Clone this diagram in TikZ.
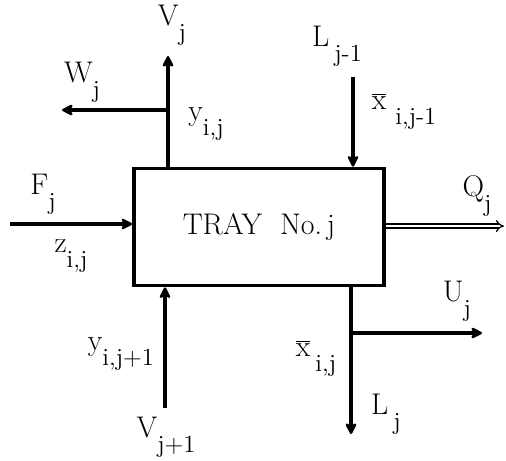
\documentclass[tikz,border=0pt]{standalone}
\usetikzlibrary{arrows.meta}
\newcommand{\dn}[1]{\raisebox{-0.5em}{\fontsize{14}{14}\selectfont #1}}
\newcommand{\xbar}{$\overline{\mbox{x}}$}
\tikzset{
	stream/.style={line width=2pt, -{Stealth[length=8pt,width=8pt,round]}},
	qstream/.style={double, line width=0.7pt, double distance=1.6pt, -{Implies}},
	lbl/.style={font=\fontsize{17}{19}\selectfont, inner sep=1pt},
}
\begin{document}
\begin{tikzpicture}[x=0.02cm, y=-0.02cm]
			\useasboundingbox (0,0) rectangle (506,460);
			% the tray
			\node[draw, line width=2.2pt, minimum width=5cm, minimum height=2.34cm, lbl] (tray) at (259,227) {TRAY\ \ No.\,j};

			% free ends of the streams
			\coordinate (vout) at (168,56);
			\coordinate (wout) at (62,110);
			\coordinate (fin) at (10,224);
			\coordinate (vin) at (165,408);
			\coordinate (lin) at (353,77);
			\coordinate (qout) at (504,226);
			\coordinate (lout) at (351,434);
			\coordinate (uout) at (482,333);

			\draw[stream] (tray.north -| vout) -- (vout);
			\draw[stream] (vout |- wout) -- (wout);
			\draw[stream] (fin) -- (fin -| tray.west);
			\draw[stream] (vin) -- (vin |- tray.south);
			\draw[stream] (lin) -- (lin |- tray.north);
			\draw[qstream] (tray.east |- qout) -- (qout);
			\draw[stream] (tray.south -| lout) -- (lout);
			\draw[stream] (lout |- uout) -- (uout);

			\node[lbl] (vj) at (172,25) {V\dn{j}};
			\node[lbl] (wj) at (82,82) {W\dn{j}};
			\node[lbl] (yij) at (206,124) {y\dn{i,j}};
			\node[lbl] (fj) at (43,194) {F\dn{j}};
			\node[lbl] (zij) at (71,256) {z\dn{i,j}};
			\node[lbl] (yij1) at (121,354) {y\dn{i,j+1}};
			\node[lbl] (vj1) at (166,437) {V\dn{j+1}};
			\node[lbl] (lj1) at (337,46) {L\,\dn{j-1}};
			\node[lbl] (xij1) at (404,111) {\xbar\,\dn{\,i,j-1}};
			\node[lbl] (qj) at (477,196) {Q\dn{j}};
			\node[lbl] (uj) at (457,301) {U\dn{j}};
			\node[lbl] (xij) at (316,358) {\xbar\,\dn{i,j}};
			\node[lbl] (lj) at (386,414) {L\,\dn{j}};

		\end{tikzpicture}
\end{document}
